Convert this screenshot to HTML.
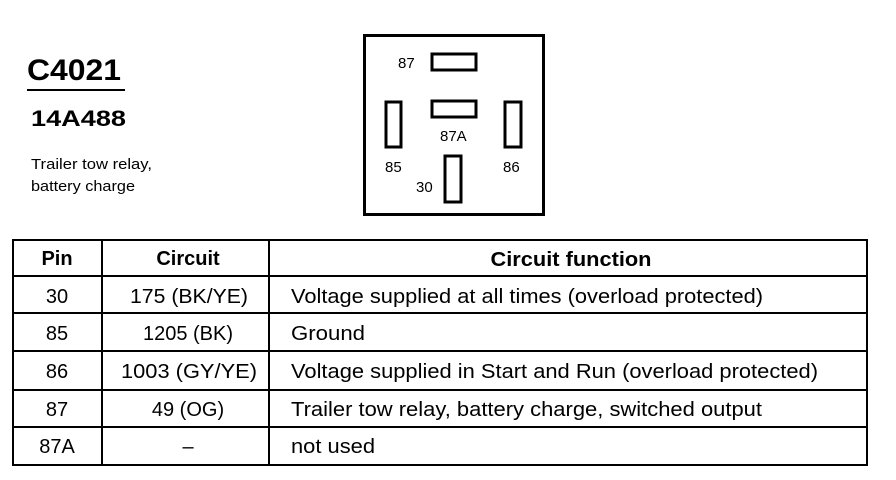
<!DOCTYPE html>
<html><head><meta charset="utf-8"><style>
html,body{margin:0;padding:0;background:#fff;}
svg{display:block;}
text{font-family:"Liberation Sans",Arial,sans-serif;fill:#000;}
</style></head><body>
<svg width="896" height="480" viewBox="0 0 896 480" xmlns="http://www.w3.org/2000/svg">
<text x="27" y="80" font-size="30" font-weight="bold" textLength="94" lengthAdjust="spacingAndGlyphs">C4021</text>
<rect x="27" y="89" width="98" height="2" fill="#000"/>
<text x="31" y="126" font-size="22" font-weight="bold" textLength="95" lengthAdjust="spacingAndGlyphs">14A488</text>
<text x="31" y="169" font-size="15" textLength="121" lengthAdjust="spacingAndGlyphs">Trailer tow relay,</text>
<text x="31" y="191" font-size="15" textLength="104" lengthAdjust="spacingAndGlyphs">battery charge</text>

<rect x="364.5" y="35.5" width="179" height="179" fill="none" stroke="#000" stroke-width="3"/>
<g fill="none" stroke="#000" stroke-width="3">
<rect x="432" y="54" width="44" height="16"/>
<rect x="432" y="101" width="44" height="16"/>
<rect x="386" y="102" width="15" height="45"/>
<rect x="505" y="102" width="16" height="45"/>
<rect x="445" y="156" width="16" height="46"/>
</g>
<g font-size="15">
<text x="398" y="68">87</text>
<text x="440" y="141">87A</text>
<text x="385" y="172">85</text>
<text x="503" y="172">86</text>
<text x="416" y="192">30</text>
</g>

<g fill="none" stroke="#000" stroke-width="2">
<rect x="13" y="240" width="854" height="225"/>
<line x1="13" y1="276" x2="867" y2="276"/>
<line x1="13" y1="313" x2="867" y2="313"/>
<line x1="13" y1="351" x2="867" y2="351"/>
<line x1="13" y1="390" x2="867" y2="390"/>
<line x1="13" y1="427" x2="867" y2="427"/>
<line x1="102" y1="240" x2="102" y2="465"/>
<line x1="269" y1="240" x2="269" y2="465"/>
</g>
<g font-size="20" text-anchor="middle">
<text x="57" y="265" font-weight="bold">Pin</text>
<text x="188" y="265" font-weight="bold">Circuit</text>
<text x="571" y="266" font-weight="bold" textLength="161" lengthAdjust="spacingAndGlyphs">Circuit function</text>
<text x="57" y="303">30</text><text x="189" y="303" textLength="118" lengthAdjust="spacingAndGlyphs">175 (BK/YE)</text>
<text x="57" y="340">85</text><text x="188" y="340">1205 (BK)</text>
<text x="57" y="378">86</text><text x="189" y="378" textLength="136" lengthAdjust="spacingAndGlyphs">1003 (GY/YE)</text>
<text x="57" y="416">87</text><text x="188" y="416">49 (OG)</text>
<text x="57" y="453">87A</text><text x="188" y="453">–</text>
</g>
<g font-size="20">
<text x="291" y="303" textLength="472" lengthAdjust="spacingAndGlyphs">Voltage supplied at all times (overload protected)</text>
<text x="291" y="340" textLength="74" lengthAdjust="spacingAndGlyphs">Ground</text>
<text x="291" y="378" textLength="527" lengthAdjust="spacingAndGlyphs">Voltage supplied in Start and Run (overload protected)</text>
<text x="291" y="416" textLength="471" lengthAdjust="spacingAndGlyphs">Trailer tow relay, battery charge, switched output</text>
<text x="291" y="453" textLength="84" lengthAdjust="spacingAndGlyphs">not used</text>
</g>
</svg>
</body></html>
